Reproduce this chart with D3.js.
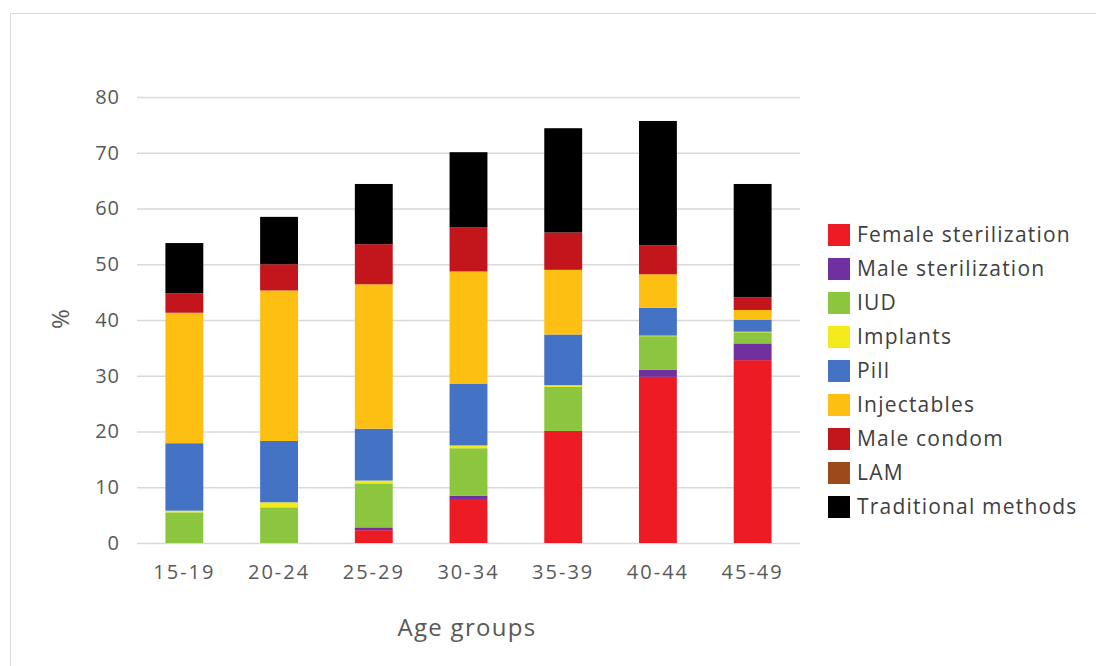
<!DOCTYPE html>
<html>
<head>
<meta charset="utf-8">
<script src="https://cdn.jsdelivr.net/npm/d3@7"></script>
<style>
  html, body { margin: 0; padding: 0; background: #fff; }
  svg { display: block; }
  text { font-family: "Open Sans", "Segoe UI", sans-serif; fill: #595959; }
</style>
</head>
<body>
<svg id="chart" width="1096" height="666"></svg>
<script>
const categories = ["15-19", "20-24", "25-29", "30-34", "35-39", "40-44", "45-49"];
const methods = ["Female sterilization", "Male sterilization", "IUD", "Implants", "Pill", "Injectables", "Male condom", "LAM", "Traditional methods"];
const colors = ["#ed1c24", "#7030a0", "#8cc63f", "#f2ea1a", "#4472c4", "#fdbf11", "#c2161c", "#9c4a1a", "#000000"];

const femaleSterilization = [0.0, 0.0, 2.3, 7.9, 20.1, 29.8, 32.8];
const maleSterilization   = [0.0, 0.0, 0.5, 0.6, 0.0, 1.3, 3.0];
const iud                 = [5.5, 6.4, 7.9, 8.5, 7.9, 6.0, 2.0];
const implants            = [0.3, 0.9, 0.5, 0.5, 0.3, 0.1, 0.1];
const pill                = [12.1, 11.0, 9.3, 11.1, 9.1, 5.0, 2.1];
const injectables         = [23.4, 27.0, 25.9, 20.1, 11.6, 6.0, 1.8];
const maleCondom          = [3.5, 4.7, 7.2, 7.9, 6.7, 5.2, 2.3];
const lam                 = [0.0, 0.0, 0.0, 0.0, 0.0, 0.0, 0.0];
const traditional         = [9.0, 8.5, 10.8, 13.5, 18.7, 22.3, 20.3];
const yTicks = [0, 10, 20, 30, 40, 50, 60, 70, 80];

const seriesValues = [femaleSterilization, maleSterilization, iud, implants, pill, injectables, maleCondom, lam, traditional];
const table = categories.map((c, i) => {
  const row = { cat: c };
  methods.forEach((m, j) => row[m] = seriesValues[j][i]);
  return row;
});

const svg = d3.select("#chart");
// outer border
svg.append("rect").attr("x", 10.5).attr("y", 13.5).attr("width", 1100).attr("height", 700)
  .attr("fill", "none").attr("stroke", "#d9d9d9").attr("stroke-width", 1);

const plotLeft = 137, plotRight = 800, plotTop = 97, plotBottom = 543;
const x = d3.scaleBand().domain(categories).range([plotLeft, plotRight]).paddingInner(0.6).paddingOuter(0.3);
const y = d3.scaleLinear().domain([0, 80]).range([plotBottom, plotTop]);

// gridlines
svg.append("g").selectAll("line").data(yTicks).join("line")
  .attr("x1", plotLeft).attr("x2", plotRight)
  .attr("y1", d => y(d) + 0.5).attr("y2", d => y(d) + 0.5)
  .attr("stroke", "#d9d9d9").attr("stroke-width", 1.5);

// y axis labels
const yAxis = d3.axisLeft(y).tickValues(yTicks).tickSize(0).tickPadding(17);
const gy = svg.append("g").attr("transform", `translate(${plotLeft},0)`).call(yAxis);
gy.select(".domain").remove();
gy.selectAll("text").style("font-size", "20px").style("fill", "#595959").style("font-family", "Open Sans").style("letter-spacing", "1px");

// bars
const stack = d3.stack().keys(methods);
const stacked = stack(table);
svg.append("g").selectAll("g").data(stacked).join("g")
  .attr("fill", (d, i) => colors[i])
  .selectAll("rect").data(d => d).join("rect")
  .attr("x", d => x(d.data.cat))
  .attr("width", x.bandwidth())
  .attr("y", d => y(d[1]))
  .attr("height", d => Math.max(0, y(d[0]) - y(d[1])));

// x axis labels
const xAxis = d3.axisBottom(x).tickSize(0).tickPadding(22);
const gx = svg.append("g").attr("transform", `translate(0,${plotBottom})`).call(xAxis);
gx.select(".domain").remove();
gx.selectAll("text").style("font-size", "20px").style("fill", "#595959").style("font-family", "Open Sans").style("letter-spacing", "2px");

// axis titles
svg.append("text").attr("x", 467).attr("y", 636).attr("text-anchor", "middle")
  .style("font-size", "24px").style("letter-spacing", "1.3px").text("Age groups");
svg.append("text").attr("transform", "translate(69,319) rotate(-90)").attr("text-anchor", "middle")
  .style("font-size", "24px").text("%");

// legend
const legend = svg.append("g").attr("transform", "translate(828,224)");
const items = legend.selectAll("g").data(methods).join("g")
  .attr("transform", (d, i) => `translate(0,${i * 34})`);
items.append("rect").attr("width", 22).attr("height", 22).attr("fill", (d, i) => colors[i]);
items.append("text").attr("x", 29).attr("y", 11).attr("dy", "0.35em")
  .style("font-size", "21px").style("letter-spacing", "1.2px").style("fill", "#404040").text(d => d);
</script>
</body>
</html>
